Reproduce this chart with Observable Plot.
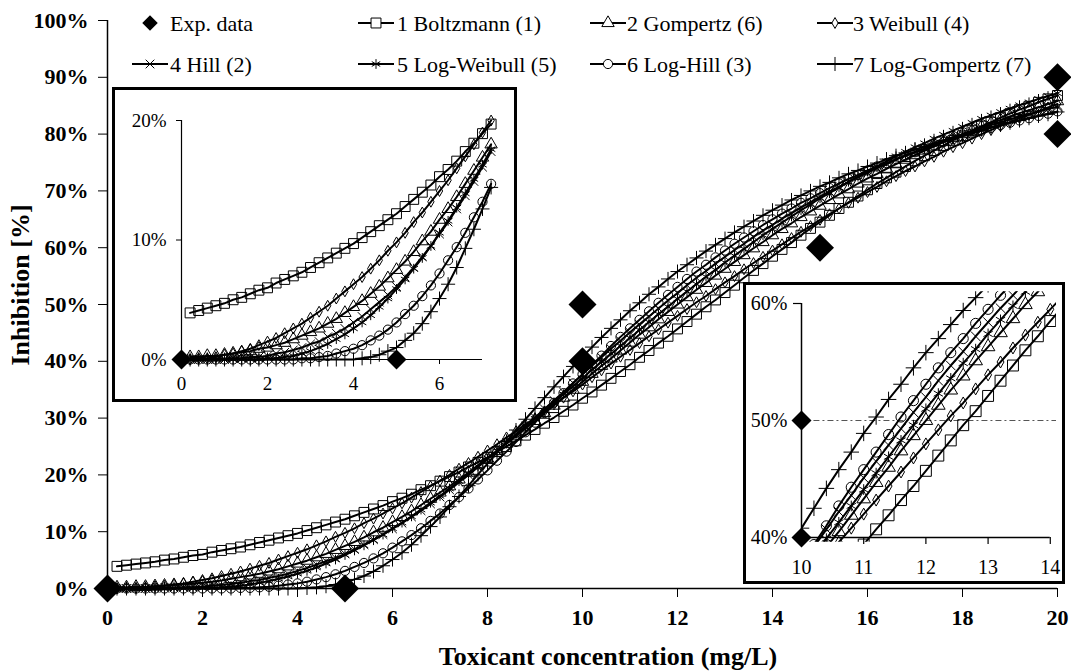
<!DOCTYPE html>
<html><head><meta charset="utf-8">
<script src="https://cdn.jsdelivr.net/npm/d3@7"></script>
<script src="https://cdn.jsdelivr.net/npm/@observablehq/plot@0.6"></script>
<style>
body{margin:0;background:#fff;}
#chart{position:relative;width:1071px;height:671px;font-family:"Liberation Serif","Times New Roman",serif;overflow:hidden;background:#fff;}
#chart svg{display:block;}
.inset{position:absolute;background:#fff;}
.inset>svg{position:absolute;left:0;top:0;}
.border{position:absolute;left:0;top:0;right:0;bottom:0;border:3px solid #000;box-sizing:border-box;pointer-events:none;}
.legtxt{position:absolute;font-size:22px;line-height:22px;white-space:nowrap;color:#000;}
.legsym{position:absolute;overflow:visible;}
.title{position:absolute;font-weight:bold;white-space:nowrap;color:#000;}
</style></head><body><div id="chart"></div>
<script>
// ---------------- data ----------------
const conc = [0.2,0.4,0.6,0.8,1,1.2,1.4,1.6,1.8,2,2.2,2.4,2.6,2.8,3,3.2,3.4,3.6,3.8,4,4.2,4.4,4.6,4.8,5,5.2,5.4,5.6,5.8,6,6.2,6.4,6.6,6.8,7,7.2,7.4,7.6,7.8,8,8.2,8.4,8.6,8.8,9,9.2,9.4,9.6,9.8,10,10.2,10.4,10.6,10.8,11,11.2,11.4,11.6,11.8,12,12.2,12.4,12.6,12.8,13,13.2,13.4,13.6,13.8,14,14.2,14.4,14.6,14.8,15,15.2,15.4,15.6,15.8,16,16.2,16.4,16.6,16.8,17,17.2,17.4,17.6,17.8,18,18.2,18.4,18.6,18.8,19,19.2,19.4,19.6,19.8,20];

const boltzmann = [3.9,4.1,4.3,4.5,4.7,5.0,5.2,5.5,5.8,6.0,
6.4,6.7,7.0,7.3,7.7,8.1,8.5,8.9,9.3,9.7,
10.2,10.7,11.2,11.7,12.2,12.8,13.4,14.0,14.6,15.3,
15.9,16.6,17.4,18.1,18.9,19.7,20.5,21.4,22.2,23.1,
24.1,25.0,26.0,27.0,28.0,29.1,30.1,31.2,32.3,33.5,
34.6,35.8,37.0,38.2,39.4,40.7,41.9,43.2,44.4,45.7,
47.0,48.3,49.6,50.8,52.1,53.4,54.7,56.0,57.2,58.5,
59.7,60.9,62.2,63.4,64.5,65.7,66.9,68.0,69.1,70.2,
71.3,72.3,73.3,74.3,75.3,76.2,77.1,78.0,78.9,79.7,
80.6,81.4,82.1,82.9,83.6,84.3,84.9,85.6,86.2,86.8];

const gompertz = [0.2,0.2,0.3,0.3,0.4,0.5,0.6,0.7,0.9,1.0,
1.2,1.4,1.7,2.0,2.3,2.6,3.0,3.4,3.9,4.4,
4.9,5.5,6.1,6.8,7.5,8.2,9.0,9.9,10.7,11.7,
12.6,13.6,14.7,15.8,16.9,18.0,19.2,20.4,21.7,22.9,
24.2,25.5,26.8,28.2,29.5,30.9,32.2,33.6,35.0,36.4,
37.8,39.2,40.5,41.9,43.3,44.7,46.0,47.4,48.7,50.0,
51.3,52.6,53.8,55.1,56.3,57.5,58.7,59.9,61.0,62.2,
63.3,64.3,65.4,66.4,67.4,68.4,69.4,70.3,71.3,72.2,
73.0,73.9,74.7,75.5,76.3,77.1,77.8,78.6,79.3,80.0,
80.6,81.3,81.9,82.5,83.1,83.7,84.2,84.7,85.3,85.8];

const weibull = [0.0,0.1,0.1,0.2,0.4,0.5,0.7,0.9,1.2,1.5,
1.8,2.2,2.6,3.0,3.5,4.0,4.5,5.1,5.7,6.3,
6.9,7.6,8.3,9.1,9.8,10.6,11.5,12.3,13.2,14.1,
15.0,16.0,17.0,18.0,19.0,20.0,21.1,22.1,23.2,24.3,
25.4,26.6,27.7,28.9,30.0,31.2,32.4,33.6,34.7,35.9,
37.2,38.4,39.6,40.8,42.0,43.2,44.4,45.6,46.8,48.0,
49.2,50.4,51.5,52.7,53.9,55.0,56.2,57.3,58.4,59.5,
60.6,61.7,62.8,63.8,64.9,65.9,66.9,67.9,68.8,69.8,
70.7,71.7,72.6,73.5,74.3,75.2,76.0,76.9,77.7,78.4,
79.2,80.0,80.7,81.4,82.1,82.8,83.4,84.0,84.7,85.3];

const hill = [0.0,0.0,0.0,0.0,0.0,0.1,0.1,0.2,0.2,0.3,
0.5,0.6,0.8,1.0,1.3,1.5,1.9,2.2,2.6,3.1,
3.6,4.2,4.8,5.4,6.1,6.9,7.7,8.6,9.5,10.5,
11.5,12.6,13.7,14.9,16.1,17.4,18.7,20.0,21.4,22.8,
24.2,25.7,27.1,28.6,30.1,31.6,33.1,34.6,36.2,37.7,
39.2,40.7,42.2,43.6,45.1,46.5,47.9,49.3,50.7,52.0,
53.4,54.7,55.9,57.2,58.4,59.6,60.7,61.9,63.0,64.0,
65.1,66.1,67.1,68.0,69.0,69.9,70.7,71.6,72.4,73.2,
74.0,74.7,75.5,76.2,76.8,77.5,78.2,78.8,79.4,80.0,
80.5,81.1,81.6,82.1,82.6,83.1,83.5,84.0,84.4,84.8];

const logWeibull = [0.0,0.0,0.0,0.0,0.0,0.0,0.0,0.0,0.0,0.1,
0.1,0.2,0.3,0.5,0.7,1.0,1.3,1.7,2.1,2.6,
3.1,3.7,4.4,5.1,5.9,6.7,7.6,8.5,9.5,10.6,
11.6,12.7,13.9,15.1,16.3,17.6,18.9,20.2,21.5,22.9,
24.2,25.6,27.0,28.4,29.9,31.3,32.7,34.2,35.6,37.0,
38.5,39.9,41.3,42.7,44.1,45.5,46.9,48.3,49.6,51.0,
52.3,53.6,54.9,56.1,57.4,58.6,59.8,61.0,62.2,63.3,
64.4,65.5,66.6,67.6,68.7,69.6,70.6,71.6,72.5,73.4,
74.3,75.2,76.1,76.9,77.7,78.4,79.2,79.9,80.6,81.3,
82.0,82.7,83.3,83.9,84.5,85.1,85.6,86.2,86.7,87.2];

const logHill = [0.0,0.0,0.0,0.0,0.0,0.0,0.0,0.0,0.0,0.0,
0.0,0.0,0.0,0.1,0.1,0.2,0.3,0.5,0.7,0.9,
1.2,1.6,2.0,2.5,3.1,3.8,4.5,5.3,6.2,7.2,
8.3,9.4,10.6,11.9,13.2,14.7,16.1,17.6,19.2,20.8,
22.5,24.1,25.8,27.5,29.2,30.9,32.7,34.4,36.1,37.7,
39.4,41.0,42.7,44.3,45.8,47.3,48.8,50.3,51.7,53.1,
54.5,55.8,57.0,58.3,59.5,60.7,61.8,62.9,64.0,65.0,
66.0,66.9,67.9,68.7,69.6,70.5,71.3,72.1,72.8,73.6,
74.3,74.9,75.6,76.2,76.8,77.4,78.0,78.6,79.1,79.6,
80.1,80.6,81.1,81.6,82.0,82.4,82.8,83.2,83.6,84.0];

const logGompertz = [0.0,0.0,0.0,0.0,0.0,0.0,0.0,0.0,0.0,0.0,
0.0,0.0,0.0,0.0,0.0,0.0,0.0,0.0,0.0,0.0,
0.1,0.2,0.4,0.7,1.0,1.6,2.2,3.0,4.0,5.1,
6.3,7.7,9.3,10.9,12.6,14.4,16.2,18.1,20.1,22.0,
24.0,25.9,27.9,29.8,31.7,33.6,35.5,37.3,39.1,40.8,
42.5,44.2,45.8,47.3,48.9,50.3,51.8,53.1,54.5,55.8,
57.0,58.2,59.4,60.5,61.6,62.7,63.7,64.7,65.7,66.6,
67.5,68.4,69.2,70.0,70.8,71.5,72.3,73.0,73.6,74.3,
74.9,75.6,76.2,76.7,77.3,77.8,78.4,78.9,79.4,79.8,
80.3,80.8,81.2,81.6,82.0,82.4,82.8,83.2,83.5,83.9];

const expConc = [0, 5, 10, 10, 15, 20, 20];
const expInhib = [0, 0, 40, 50, 60, 80, 90];

const modelLabels = ["1 Boltzmann (1)", "2 Gompertz (6)", "3 Weibull (4)", "4 Hill (2)",
  "5 Log-Weibull (5)", "6 Log-Hill (3)", "7 Log-Gompertz (7)"];
const expLabel = "Exp. data";

const mainXTicks = [0,2,4,6,8,10,12,14,16,18,20];
const mainYTicks = [0,10,20,30,40,50,60,70,80,90,100];
const inset1XTicks = [0,2,4,6];
const inset1YTicks = [0,10,20];
const inset2XTicks = [10,11,12,13,14];
const inset2YTicks = [40,50,60];
const ec50Line = [50];

const xTitle = "Toxicant concentration (mg/L)";
const yTitle = "Inhibition [%]";

// ---------------- build ----------------
const FONT = '"Liberation Serif","Times New Roman",serif';
const seriesValues = [boltzmann, gompertz, weibull, hill, logWeibull, logHill, logGompertz];
const seriesSym = ["square", "triangle", "diamond", "times", "asterisk", "circle", "plus"];
const seriesR = [5.6, 4.6, 3.3, 4.0, 4.6, 4.6, 4.6];
const series = modelLabels.map((label, k) => ({label, values: seriesValues[k], symbol: seriesSym[k], r: seriesR[k]}));
const expRows = expConc.map((x, i) => ({x, y: expInhib[i]}));

function rowsOf(s, filter) {
  return conc.map((x, i) => ({x, y: s.values[i]})).filter(filter);
}
function curveMarks(filter, scale, clip) {
  return series.flatMap(s => {
    const d = rowsOf(s, filter);
    return [
      Plot.line(d, {x: "x", y: "y", stroke: "#000", strokeWidth: 2, clip}),
      Plot.dot(d, {x: "x", y: "y", symbol: s.symbol, r: s.r * scale, stroke: "#000", fill: "none", strokeWidth: 1, clip})
    ];
  });
}

const root = document.getElementById("chart");

// main chart
const main = Plot.plot({
  width: 1071, height: 671,
  marginLeft: 107, marginRight: 14, marginTop: 20, marginBottom: 83,
  style: {fontFamily: FONT, fontSize: "22px", fontWeight: "bold", color: "#000", background: "#fff", overflow: "visible"},
  x: {domain: [mainXTicks[0], mainXTicks.at(-1)], ticks: mainXTicks, tickFormat: d => String(d), tickSize: 9, tickPadding: 12, label: null},
  y: {domain: [mainYTicks[0], mainYTicks.at(-1)], ticks: mainYTicks, tickFormat: d => d + "%", tickSize: 9, tickPadding: 10, label: null},
  marks: [
    Plot.ruleX([0], {strokeWidth: 1.5}),
    Plot.ruleY([0], {strokeWidth: 1.5}),
    ...curveMarks(() => true, 1, false),
    Plot.dot(expRows, {x: "x", y: "y", symbol: "diamond2", r: 12.6, fill: "#000", stroke: "none"})
  ]
});
main.style.position = "absolute"; main.style.left = "0px"; main.style.top = "0px";
root.appendChild(main);

// inset 1 (low concentrations)
function makeInset(left, top, w, h, svg) {
  const div = document.createElement("div");
  div.className = "inset";
  Object.assign(div.style, {left: left + "px", top: top + "px", width: w + "px", height: h + "px"});
  div.appendChild(svg);
  const b = document.createElement("div"); b.className = "border"; div.appendChild(b);
  root.appendChild(div);
}

const in1 = Plot.plot({
  width: 405, height: 315,
  marginLeft: 69, marginRight: 35, marginTop: 33, marginBottom: 43,
  style: {fontFamily: FONT, fontSize: "19px", color: "#000", background: "#fff", overflow: "visible"},
  x: {domain: [0, 7], ticks: inset1XTicks, tickFormat: d => String(d), tickSize: 5, tickPadding: 12, label: null},
  y: {domain: [inset1YTicks[0], inset1YTicks.at(-1)], ticks: inset1YTicks, tickFormat: d => d + "%", tickSize: 5, tickPadding: 10, label: null},
  marks: [
    Plot.ruleX([0], {strokeWidth: 1.2}),
    Plot.ruleY([0], {strokeWidth: 1.2}),
    ...curveMarks(d => d.x <= 7.2, 1, false),
    Plot.dot(expRows.filter(d => d.x <= 7 && d.y <= 20), {x: "x", y: "y", symbol: "diamond2", r: 9, fill: "#000"})
  ]
});
makeInset(112, 87, 405, 315, in1);

// inset 2 (around EC50)
const w2 = 322, h2 = 302, ml2 = 58, mr2 = 9, mt2 = 9.3, mb2 = 42.3;
const xd2 = [10, 14.1], yd2 = [39.6, 61];
const ppx2 = (w2 - ml2 - mr2) / (xd2[1] - xd2[0]);
const ppy2 = (h2 - mt2 - mb2) / (yd2[1] - yd2[0]);
const ax0 = inset2XTicks[0], ax1 = inset2XTicks.at(-1), ay0 = inset2YTicks[0], ay1 = inset2YTicks.at(-1);
const in2 = Plot.plot({
  width: w2, height: h2,
  marginLeft: ml2, marginRight: mr2, marginTop: mt2, marginBottom: mb2,
  style: {fontFamily: FONT, fontSize: "20px", color: "#000", background: "#fff", overflow: "visible"},
  x: {domain: xd2, axis: null},
  y: {domain: yd2, axis: null},
  marks: [
    Plot.ruleY(ec50Line, {x1: 10.2, x2: xd2[1], stroke: "#555", strokeWidth: 1, strokeDasharray: "6,3,2,3"}),
    ...curveMarks(d => d.x >= 9.6 && d.x <= 14.4, 1.1, true),
    Plot.ruleY([ay0], {x1: ax0, x2: ax1, strokeWidth: 1.5}),
    Plot.ruleX([ax0], {y1: ay0, y2: ay1, strokeWidth: 1.5}),
    Plot.ruleX(inset2XTicks, {x: d => d, y1: ay0, y2: ay0 - 7 / ppy2, strokeWidth: 1.2}),
    Plot.ruleY(inset2YTicks, {y: d => d, x1: ax0 - 8 / ppx2, x2: ax0, strokeWidth: 1.2}),
    Plot.text(inset2XTicks, {x: d => d, y: ay0, dy: 30, text: d => String(d)}),
    Plot.text(inset2YTicks, {x: ax0, y: d => d, dx: -14, textAnchor: "end", text: d => d + "%"}),
    Plot.dot(expRows.filter(d => d.x >= 10 && d.x <= 14 && d.y >= 40 && d.y <= 60), {x: "x", y: "y", symbol: "diamond2", r: 9, fill: "#000"})
  ]
});
makeInset(743, 282, 322, 302, in2);

// legend
const symMap = {square: d3.symbolSquare, triangle: d3.symbolTriangle, diamond: d3.symbolDiamond, diamond2: d3.symbolDiamond2,
  times: d3.symbolTimes, asterisk: d3.symbolAsterisk, circle: d3.symbolCircle, plus: d3.symbolPlus};
const colSample = [132, 358, 590, 817], colText = [170, 397, 627, 853], rowY = [23, 64], rowBase = [31, 72];
const legendItems = [{label: expLabel, exp: true}, ...series];
legendItems.forEach((it, k) => {
  const col = k % 4, row = Math.floor(k / 4);
  const svg = d3.create("svg").attr("class", "legsym").attr("width", 36).attr("height", 24)
    .style("left", colSample[col] + "px").style("top", (rowY[row] - 12) + "px");
  if (it.exp) {
    svg.append("path").attr("transform", "translate(18,12)")
      .attr("d", d3.symbol(symMap.diamond2, Math.PI * 7 * 7)()).attr("fill", "#000");
  } else {
    svg.append("line").attr("x1", 0).attr("x2", 36).attr("y1", 12).attr("y2", 12).attr("stroke", "#000").attr("stroke-width", 2);
    svg.append("path").attr("transform", "translate(18,12)")
      .attr("d", d3.symbol(symMap[it.symbol], Math.PI * it.r * it.r)()).attr("fill", "#fff").attr("stroke", "#000").attr("stroke-width", 1);
  }
  root.appendChild(svg.node());
  const t = document.createElement("div");
  t.className = "legtxt"; t.textContent = it.label;
  t.style.left = colText[col] + "px"; t.style.top = (rowBase[row] - 18) + "px";
  root.appendChild(t);
});

// axis titles
const xt = document.createElement("div");
xt.className = "title"; xt.textContent = xTitle;
Object.assign(xt.style, {fontSize: "26px", lineHeight: "26px", left: "608px", top: "644px", transform: "translateX(-50%)"});
root.appendChild(xt);
const yt = document.createElement("div");
yt.className = "title"; yt.textContent = yTitle;
Object.assign(yt.style, {fontSize: "26px", lineHeight: "26px", left: "21px", top: "285px", transform: "translate(-50%,-50%) rotate(-90deg)"});
root.appendChild(yt);
</script></body></html>
